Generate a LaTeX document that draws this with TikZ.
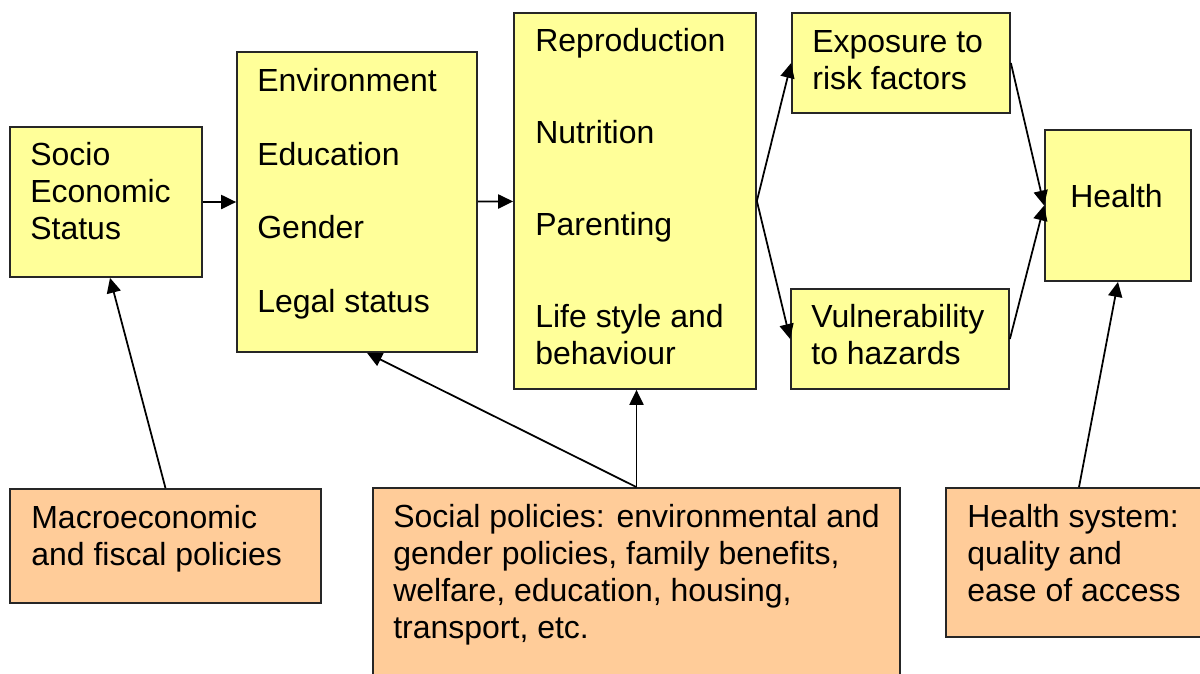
\documentclass[tikz,border=0pt]{standalone}
\usepackage{fontspec}
\setmainfont{Liberation Sans}
\usetikzlibrary{arrows.meta,fit,calc}
\definecolor{paleyellow}{HTML}{FFFF99}
\definecolor{paleorange}{HTML}{FFCC99}

\begin{document}
\begin{tikzpicture}[x=0.02cm, y=-0.02cm,
	yellowbox/.style={draw=black!85, line width=1pt, fill=paleyellow, inner sep=0pt},
	orangebox/.style={draw=black!85, line width=1pt, fill=paleorange, inner sep=0pt},
	boxtext/.style={anchor=base west, align=left, inner sep=0pt, font=\fontsize{18.2pt}{20.9pt}\selectfont},
	link/.style={line width=1pt, -{Triangle[length=8.5pt, width=8pt]}}]
			%%%%% START %%%%%
			
			\useasboundingbox (0, 0) rectangle (1200, 673);
			
			\node[yellowbox, fit={(10, 127) (202, 277)}] (ses) {};
			\node[yellowbox, fit={(237, 52) (477, 352)}] (env) {};
			\node[yellowbox, fit={(514, 13) (756, 389)}] (repro) {};
			\node[yellowbox, fit={(792, 13) (1010, 113)}] (expo) {};
			\node[yellowbox, fit={(791, 289) (1009, 389)}] (vuln) {};
			\node[yellowbox, fit={(1045, 130) (1191, 281)}] (health) {};
			
			\node[orangebox, fit={(10, 489) (321, 603)}] (macro) {};
			\node[orangebox, fit={(373, 488) (900, 700)}] (social) {};
			\node[orangebox, fit={(946, 488) (1212, 637)}] (hsys) {};
			
			% base is the last line here
			\node[boxtext] (sestext) at (30, 239) {Socio\\Economic\\Status};
			\node[boxtext] (envtext) at (257, 312) {Environment\\[20.9pt]Education\\[20.9pt]Gender\\[20.9pt]Legal status};
			\node[boxtext] (reprotext) at (535, 364) {Reproduction\\[31.4pt]Nutrition\\[31.4pt]Parenting\\[31.4pt]Life style and\\behaviour};
			\node[boxtext] (expotext) at (812, 89) {Exposure to\\risk factors};
			\node[boxtext] (vulntext) at (811, 364) {Vulnerability\\to hazards};
			\node[boxtext] (healthtext) at (1070, 207) {Health};
			
			\node[boxtext] (macrotext) at (31, 565) {Macroeconomic\\and fiscal policies};
			\node[boxtext] (socialtext) at (393, 638) {Social policies: environmental and\\gender policies, family benefits,\\welfare, education, housing,\\transport, etc.};
			\node[boxtext] (hsystext) at (967, 601) {Health system:\\quality and\\ease of access};
			
			\draw[link] (ses) -- (env);
			\draw[link] (env) -- (repro);
			\draw[link] (repro.east) -- (expo.west);
			\draw[link] (repro.east) -- (vuln.west);
			\draw[link] (expo.east) -- (health.west);
			\draw[link] (vuln.east) -- (health.west);
			
			\draw[link] (macro.north) -- ($(ses.south)+(4, 0)$);
			\draw[link] (social.north) -- ($(env.south)+(10, 0)$);
			\draw[link] (social.north) -- (social.north |- repro.south);
			\draw[link] (hsys.north) -- (health.south);
			
			%%%%% END %%%%%
\end{tikzpicture}
\end{document}
